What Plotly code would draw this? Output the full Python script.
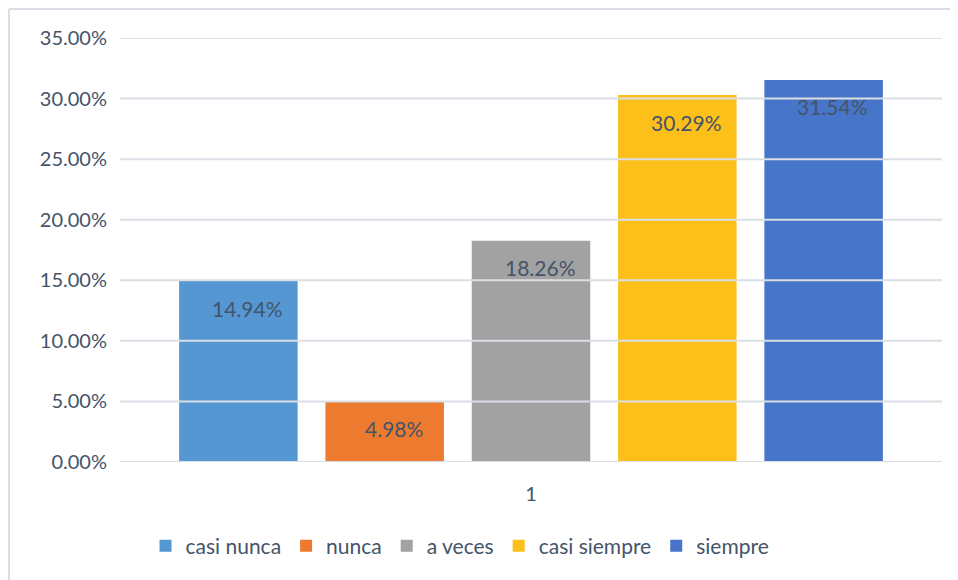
import plotly.graph_objects as go

CATEGORY = ["1"]
SERIES = ["casi nunca", "nunca", "a veces", "casi siempre", "siempre"]
VALUES = [0.1494, 0.0498, 0.1826, 0.3029, 0.3154]
COLORS = ["#5597d3", "#ec7b2f", "#a2a2a2", "#fdbf1a", "#4775c9"]
Y_TICKS = [0.0, 0.05, 0.10, 0.15, 0.20, 0.25, 0.30, 0.35]

_TEXT = "#44546a"
_GRID = "#dadee5"
_FONT = "Lato, 'Open Sans', sans-serif"

# page body has an 8px margin, so the figure is a bit smaller than the window
W, H = 950, 572
M = dict(l=112, r=16, t=30, b=118)
pw = W - M["l"] - M["r"]
ph = H - M["t"] - M["b"]
BARGAP = 0.11
slot = pw * (1 - BARGAP) / len(SERIES)

fig = go.Figure()
for name, val, col in zip(SERIES, VALUES, COLORS):
    fig.add_trace(go.Bar(
        x=CATEGORY, y=[val], name=name,
        marker=dict(color=col, line=dict(width=0)),
        hoverinfo="skip",
    ))

# data labels: "inside end" like Excel, a little further down than plotly puts them
# (annotation x on a category axis is the category index)
annotations = []
for i, val in enumerate(VALUES):
    annotations.append(dict(
        x=0, y=val, xref="x", yref="y",
        text=f"{val:.2%}",
        showarrow=False,
        xshift=(i - (len(SERIES) - 1) / 2) * slot + 9,
        yshift=-27, yanchor="middle",
        font=dict(size=21, color=_TEXT, family=_FONT),
    ))

# gridlines sit on top of the bars in the original
shapes = [
    dict(type="line", xref="paper", yref="y", x0=0, x1=1, y0=t, y1=t,
         line=dict(color=_GRID, width=2), layer="above")
    for t in Y_TICKS
]
# chart frame: top and left edges of the figure
fx0 = (1 - M["l"]) / pw
fy1 = 1 + (M["t"] - 1) / ph
shapes.append(dict(type="line", xref="paper", yref="paper", x0=fx0, x1=1.05, y0=fy1, y1=fy1,
                   line=dict(color=_GRID, width=2)))
shapes.append(dict(type="line", xref="paper", yref="paper", x0=fx0, x1=fx0, y0=-0.4, y1=fy1,
                   line=dict(color=_GRID, width=2)))

fig.update_layout(
    width=W, height=H,
    margin=M,
    paper_bgcolor="white",
    plot_bgcolor="white",
    barmode="group",
    bargap=BARGAP,
    bargroupgap=0.19,
    font=dict(family=_FONT, color=_TEXT, size=20),
    shapes=shapes,
    annotations=annotations,
    showlegend=True,
    legend=dict(
        orientation="h",
        x=(452 - M["l"]) / pw, xanchor="center",
        y=-(538 - (H - M["b"])) / ph, yanchor="middle",
        font=dict(size=21, color=_TEXT, family=_FONT),
        itemwidth=30,
        traceorder="normal",
    ),
    xaxis=dict(
        range=[-0.5, 0.5],
        showgrid=False, zeroline=False, showline=False,
        ticks="", ticklabelstandoff=18,
        tickfont=dict(size=20, color=_TEXT),
    ),
    yaxis=dict(
        range=[0, 0.35], tickvals=Y_TICKS, tickformat=".2%",
        showgrid=False, zeroline=False, showline=False,
        ticks="", ticklabelstandoff=12,
        tickfont=dict(size=20, color=_TEXT),
    ),
)

fig.write_html("out.html")
